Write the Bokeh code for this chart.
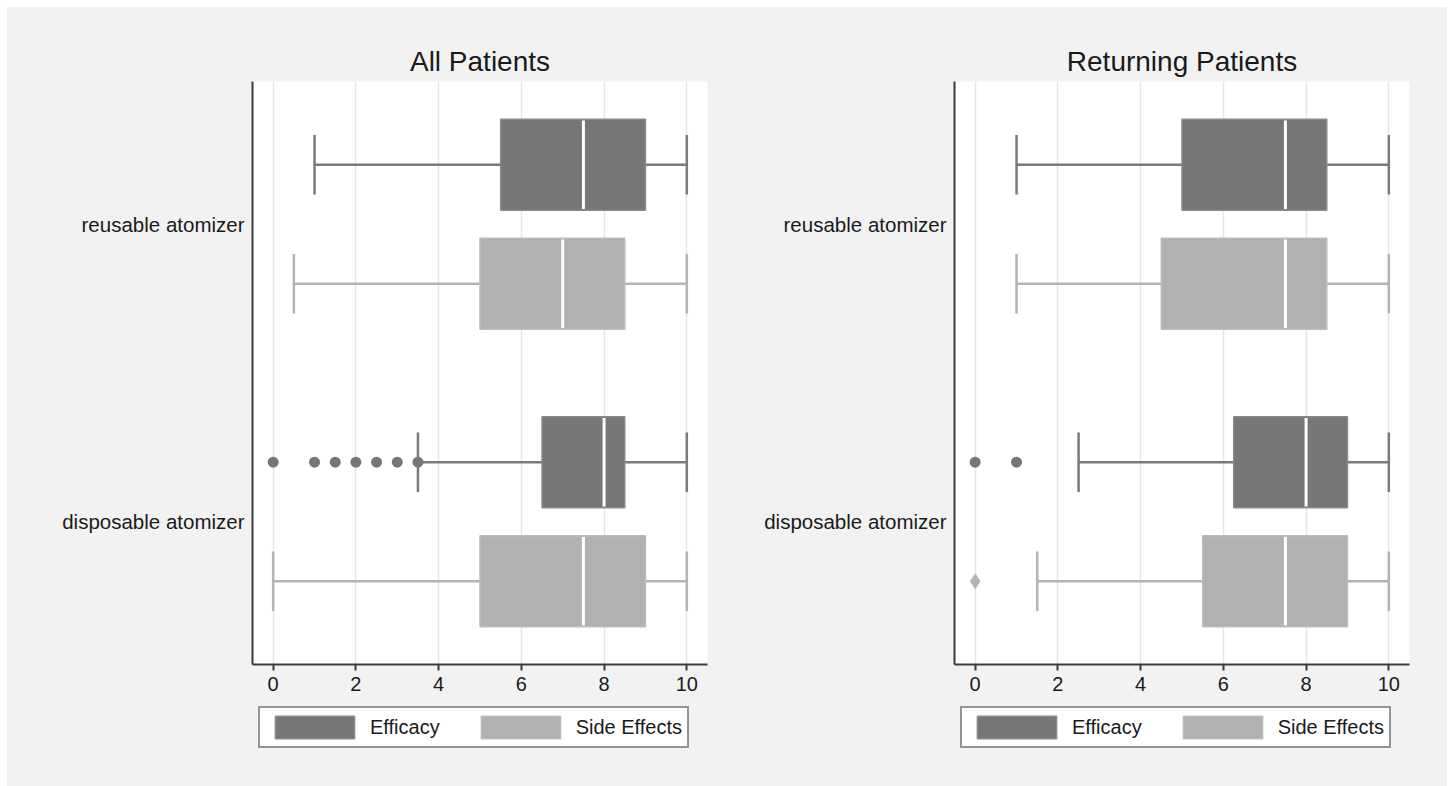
from bokeh.plotting import figure
from bokeh.layouts import row, column
from bokeh.models import FixedTicker, Legend, LegendItem, Range1d
from bokeh.embed import file_html
from bokeh.resources import INLINE

# ---------------- data ----------------
categories = ["reusable atomizer", "disposable atomizer"]
series = ["Efficacy", "Side Effects"]
x_ticks = [0, 2, 4, 6, 8, 10]

# All Patients
all_eff_low = [1.0, 3.5]
all_eff_q1 = [5.5, 6.5]
all_eff_med = [7.5, 8.0]
all_eff_q3 = [9.0, 8.5]
all_eff_high = [10.0, 10.0]
all_eff_out = [[], [0.0, 1.0, 1.5, 2.0, 2.5, 3.0, 3.5]]

all_se_low = [0.5, 0.0]
all_se_q1 = [5.0, 5.0]
all_se_med = [7.0, 7.5]
all_se_q3 = [8.5, 9.0]
all_se_high = [10.0, 10.0]
all_se_out = [[], []]

# Returning Patients
ret_eff_low = [1.0, 2.5]
ret_eff_q1 = [5.0, 6.25]
ret_eff_med = [7.5, 8.0]
ret_eff_q3 = [8.5, 9.0]
ret_eff_high = [10.0, 10.0]
ret_eff_out = [[], [0.0, 1.0]]

ret_se_low = [1.0, 1.5]
ret_se_q1 = [4.5, 5.5]
ret_se_med = [7.5, 7.5]
ret_se_q3 = [8.5, 9.0]
ret_se_high = [10.0, 10.0]
ret_se_out = [[], [0.0]]

# ---------------- styles ----------------
FONT = "Liberation Sans"
BG = "#f2f2f2"
EFF_FILL, EFF_LINE, EFF_WHISK = "#767676", "#8a8a8a", "#7a7a7a"
SE_FILL, SE_LINE, SE_WHISK = "#b1b1b1", "#bcbcbc", "#b3b3b3"
AXIS_COL = "#3a3a3a"
TEXT_COL = "#1a1a1a"

cat_pos = [1.0, 0.0]  # reusable on top
OFFSET = 0.2
BOX_H = 0.306
CAP_H = 0.2


def draw_series(p, low, q1, med, q3, high, outs, off, fill, line, whisk, out_marker, out_size):
    ys = [c + off for c in cat_pos]
    p.segment(x0=low, y0=ys, x1=q1, y1=ys, line_color=whisk, line_width=2.5)
    p.segment(x0=q3, y0=ys, x1=high, y1=ys, line_color=whisk, line_width=2.5)
    p.segment(x0=low, y0=[y - CAP_H / 2 for y in ys], x1=low, y1=[y + CAP_H / 2 for y in ys],
              line_color=whisk, line_width=2.5)
    p.segment(x0=high, y0=[y - CAP_H / 2 for y in ys], x1=high, y1=[y + CAP_H / 2 for y in ys],
              line_color=whisk, line_width=2.5)
    p.quad(left=q1, right=q3, bottom=[y - BOX_H / 2 for y in ys], top=[y + BOX_H / 2 for y in ys],
           fill_color=fill, line_color=line, line_width=1.5)
    p.segment(x0=med, y0=[y - BOX_H / 2 + 0.004 for y in ys], x1=med, y1=[y + BOX_H / 2 - 0.004 for y in ys],
              line_color="white", line_width=3)
    ox, oy = [], []
    for vals, y in zip(outs, ys):
        for v in vals:
            ox.append(v)
            oy.append(y)
    if ox:
        p.scatter(ox, oy, marker=out_marker, size=out_size,
                  fill_color=whisk if out_marker == "diamond" else fill, line_color=None)


def make_panel(title, right_border, eff, se):
    p = figure(frame_width=455, frame_height=583, output_backend="svg", toolbar_location=None,
               x_range=Range1d(-0.5, 10.5), y_range=Range1d(-0.48, 1.48),
               min_border_left=245, min_border_right=right_border,
               min_border_top=74, min_border_bottom=40,
               background_fill_color="white", border_fill_color=BG)
    p.outline_line_color = None
    p.title.text = title
    p.title.align = "center"
    p.title.text_font = FONT
    p.title.text_font_size = "28px"
    p.title.text_font_style = "normal"
    p.title.text_color = TEXT_COL
    p.title.standoff = 10

    p.xaxis.ticker = FixedTicker(ticks=x_ticks)
    p.yaxis.ticker = FixedTicker(ticks=cat_pos)
    p.yaxis.major_label_overrides = {cat_pos[0]: categories[0], cat_pos[1]: categories[1]}
    for ax in (p.xaxis, p.yaxis):
        ax.axis_line_color = AXIS_COL
        ax.axis_line_width = 2
        ax.major_label_text_font = FONT
        ax.major_label_text_color = TEXT_COL
        ax.minor_tick_line_color = None
    p.xaxis.major_label_text_font_size = "20px"
    p.yaxis.major_label_text_font_size = "20.5px"
    p.xaxis.major_tick_line_color = AXIS_COL
    p.xaxis.major_tick_line_width = 2
    p.xaxis.major_tick_out = 6
    p.xaxis.major_tick_in = 0
    p.xaxis.major_label_standoff = 6
    p.yaxis.major_tick_line_color = None
    p.yaxis.major_tick_out = 0
    p.yaxis.major_tick_in = 0
    p.yaxis.major_label_standoff = 8

    p.xgrid.ticker = FixedTicker(ticks=x_ticks)
    p.xgrid.grid_line_color = "#e6e6e6"
    p.xgrid.grid_line_width = 1.5
    p.ygrid.grid_line_color = None

    draw_series(p, *eff, OFFSET, EFF_FILL, EFF_LINE, EFF_WHISK, "circle", 11)
    draw_series(p, *se, -OFFSET, SE_FILL, SE_LINE, SE_WHISK, "diamond", 16)

    # legend strip below the panel (its frame is aligned with the panel's frame by the column)
    lf = figure(width=455 + 245 + right_border, height=82, output_backend="svg",
                toolbar_location=None, x_axis_type=None, y_axis_type=None,
                x_range=Range1d(-0.5, 10.5), y_range=Range1d(-0.48, 1.48),
                min_border_left=245, min_border_right=right_border, min_border_top=0,
                min_border_bottom=0, background_fill_color=BG, border_fill_color=BG)
    lf.outline_line_color = None
    lf.grid.grid_line_color = None
    # hidden proxy renderers (same boxes) that only supply the legend swatches
    r_eff = lf.quad(left=eff[1], right=eff[3], bottom=[c - BOX_H / 2 for c in cat_pos],
                    top=[c + BOX_H / 2 for c in cat_pos], fill_color=EFF_FILL, line_color=EFF_LINE,
                    line_width=1.5, visible=False)
    r_se = lf.quad(left=se[1], right=se[3], bottom=[c - BOX_H / 2 for c in cat_pos],
                   top=[c + BOX_H / 2 for c in cat_pos], fill_color=SE_FILL, line_color=SE_LINE,
                   line_width=1.5, visible=False)
    legend = Legend(items=[LegendItem(label=series[0], renderers=[r_eff]),
                           LegendItem(label=series[1], renderers=[r_se])],
                    orientation="horizontal", location=(6, 38))
    legend.label_text_font = FONT
    legend.label_text_font_size = "20px"
    legend.label_text_color = TEXT_COL
    legend.glyph_width = 99
    legend.glyph_height = 28
    legend.label_height = 28
    legend.label_standoff = 6
    legend.spacing = 31
    legend.padding = 5
    legend.margin = 0
    legend.border_line_color = "#2a2a2a"
    legend.border_line_width = 2
    legend.background_fill_color = "white"
    legend.background_fill_alpha = 1.0
    lf.add_layout(legend, "center")
    return column(p, lf, spacing=0)


c1 = make_panel("All Patients", 2,
                (all_eff_low, all_eff_q1, all_eff_med, all_eff_q3, all_eff_high, all_eff_out),
                (all_se_low, all_se_q1, all_se_med, all_se_q3, all_se_high, all_se_out))
c2 = make_panel("Returning Patients", 38,
                (ret_eff_low, ret_eff_q1, ret_eff_med, ret_eff_q3, ret_eff_high, ret_eff_out),
                (ret_se_low, ret_se_q1, ret_se_med, ret_se_q3, ret_se_high, ret_se_out))

layout = row(c1, c2, spacing=0)
layout.margin = (7, 0, 0, 7)
layout.styles = {"background-color": BG}
open("out.html", "w").write(file_html(layout, INLINE))
